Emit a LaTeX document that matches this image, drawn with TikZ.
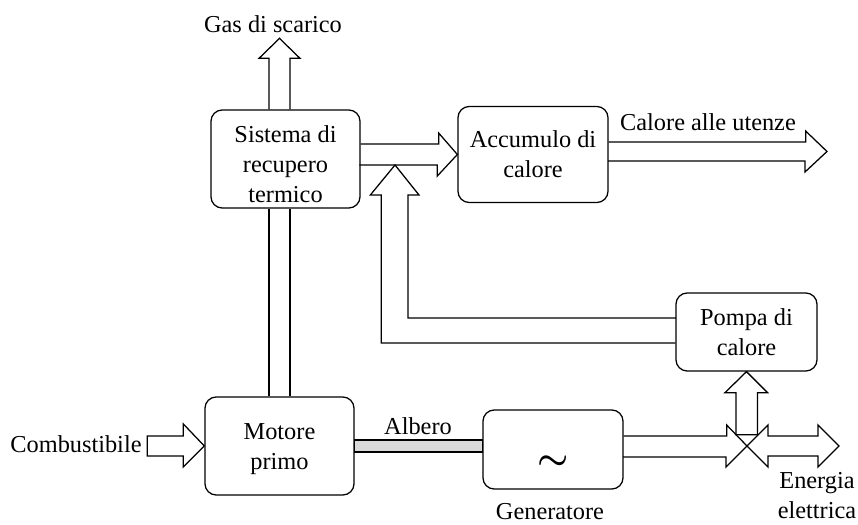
\documentclass[tikz,border=0pt]{standalone}
\usepackage{fontspec}
\setmainfont{Liberation Serif}
\usetikzlibrary{calc}

\begin{document}
\begin{tikzpicture}[
  x=0.025cm, y=-0.025cm,
  font=\fontsize{17.3}{21.3}\selectfont,
  block/.style={draw, rounded corners=8pt, line width=0.9pt, align=center, inner sep=0pt},
  fat/.style={draw, line width=0.9pt, line join=miter},
  shaft/.style={draw, line width=0.9pt, fill=black!15},
  lbl/.style={align=center, inner sep=0pt},
]
  \useasboundingbox (0,0) rectangle (858,525);

  \node[block, minimum width=3.725cm, minimum height=2.45cm] (rec) at (285.5,159) {\rule{0pt}{20pt}Sistema di\\recupero\\termico};
  \node[block, minimum width=3.75cm, minimum height=2.4cm] (acc) at (533,154.5) {Accumulo di\\calore};
  \node[block, minimum width=3.525cm, minimum height=1.95cm] (pdc) at (746.5,332) {Pompa di\\calore};
  \node[block, minimum width=3.725cm, minimum height=2.45cm] (mot) at (279.5,446) {\rule{0pt}{16pt}Motore\\primo};
  \node[block, minimum width=3.5cm, minimum height=1.975cm] (gen) at (553,449.5)
    {\smash{\raisebox{-13.9pt}{\fontsize{40}{40}\selectfont\boldmath$\sim$}}};

  \node[lbl] (gas) at (273,24) {Gas di scarico};
  \node[lbl] (cal) at (708,122) {Calore alle utenze};
  \node[lbl] (comb) at (76,444) {Combustibile};
  \node[lbl] (alb) at (418,426.5) {Albero};
  \node[lbl] (genl) at (550,512) {Generatore};
  \node[lbl] (ene) at (817,496) {Energia\\elettrica};

  \coordinate (mix) at (395,165);
  \coordinate (junc) at (747,446);
  \coordinate (out) at (827,151.5);

  \draw[fat] ($(rec.north)+(-16.5,0)$) -- ++(0,-51) -- ++(-10,0) -- ++(20.5,-20) -- ++(20.5,20) -- ++(-10,0) -- ++(0,51);
  \draw[fat] ($(rec.south)+(-16.5,0)$) -- ($(mot.north)+(-10.5,0)$);
  \draw[fat] ($(rec.south)+(4.5,0)$) -- ($(mot.north)+(10.5,0)$);

  \draw[fat] (rec.east |- acc.west) ++(0,-10.5) -- ++(78,0) -- ++(0,-11) -- (acc.west) -- ++(-20,21.5) -- ++(0,-11) -- ++(-78,0);
  \draw[fat] ($(acc.east)+(0,-12.5)$) -- ++(197,0) -- ++(0,-11) -- (out) -- ++(-22,20.5) -- ++(0,-11) -- ++(-197,0);

  \draw[fat] ($(pdc.west)+(0,11)$) -- ++(-294,0) -- ++(0,-148) -- ++(-11,0) -- (mix) -- ++(24,30) -- ++(-11,0) -- ++(0,123) -- ++(268,0);

  \draw[fat] (mot.west) -- ++(-21,-22) -- ++(0,12) -- ++(-36,0) -- ++(0,20) -- ++(36,0) -- ++(0,11) -- cycle;
  \draw[shaft] ($(mot.east)+(0,-6)$) rectangle ($(gen.west |- mot.east)+(0,6)$);

  \draw[fat] ($(gen.east)+(0,-13.5)$) -- ++(103,0) -- ++(0,-11) -- (junc) -- ++(-21,21) -- ++(0,-10) -- ++(-103,0);
  \draw[fat] ($(pdc.south)+(-10.5,63)$) -- ++(0,-42) -- ++(-11,0) -- (pdc.south) -- ++(21,21) -- ++(-10,0) -- ++(0,42) -- cycle;
  \draw[fat] (junc) -- ++(21,-21) -- ++(0,11) -- ++(50,0) -- ++(0,-11) -- ++(21,21) -- ++(-21,21) -- ++(0,-11) -- ++(-50,0) -- ++(0,11) -- cycle;
\end{tikzpicture}
\end{document}
